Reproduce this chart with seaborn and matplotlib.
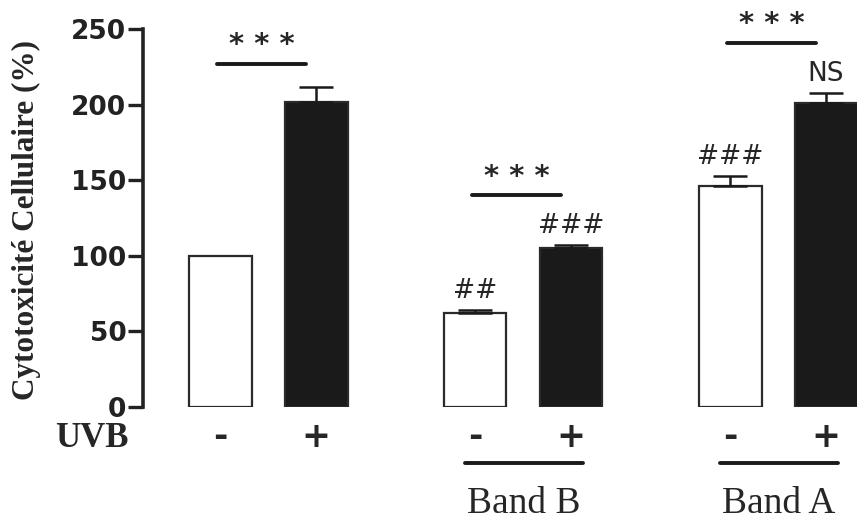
import matplotlib.pyplot as plt
import seaborn as sns
import numpy as np
import pandas as pd

# bar data
positions = [0, 1, 2.656, 3.656, 5.313, 6.313]
uvb = ['-', '+', '-', '+', '-', '+']
cytotox = [100, 202, 62, 105, 146, 201]
sem = [0, 9.5, 2, 2, 6.5, 6.5]

# annotations
sig_marks = ['##', '###', '###', 'NS']
sig_bars = [2, 3, 4, 5]
groups = ['Band B', 'Band A']
group_bars = [(2, 3), (4, 5)]
stars_pairs = [(0, 1), (2, 3), (4, 5)]
stars_y = [227, 140, 241]

df = pd.DataFrame({'pos': positions, 'UVB': uvb, 'val': cytotox})

sns.set_theme(style="ticks")
plt.rcParams['font.family'] = ['DejaVu Sans']

fig = plt.figure(figsize=(8.57, 5.2), dpi=100)
ax = fig.add_axes([0.1669, 0.2173, 0.8331, 0.7267])

sns.barplot(data=df, x='pos', y='val', hue='UVB', native_scale=True,
            palette={'-': 'white', '+': '#1a1a1a'}, width=0.656,
            edgecolor='#2a2a2a', linewidth=1.6, legend=False, ax=ax)

# error bars only where there is an error
has_err = [i for i, e in enumerate(sem) if e > 0]
ax.errorbar([positions[i] for i in has_err], [cytotox[i] for i in has_err],
            yerr=[np.zeros(len(has_err)), [sem[i] for i in has_err]], fmt='none',
            ecolor='#1a1a1a', elinewidth=1.8, capsize=12, capthick=1.8, zorder=1)

ax.set_xlim(-0.802, 6.635)
ax.set_ylim(0, 250)
ax.set_yticks([0, 50, 100, 150, 200, 250])
ax.set_xticks([])
ax.set_xlabel('')
ax.set_ylabel('Cytotoxicité Cellulaire (%)', family='Liberation Serif',
              fontweight='bold', fontsize=22.5)
ax.yaxis.set_label_coords(-0.143, 0.495)
for lab in ax.get_yticklabels():
    lab.set_fontweight('bold')
    lab.set_fontsize(19)
    lab.set_color('#222222')
ax.tick_params(axis='y', length=11, width=2.4, pad=1, color='#222222')
sns.despine(ax=ax, bottom=True)
ax.spines['left'].set_linewidth(2.6)
ax.spines['left'].set_color('#222222')

# UVB +/- labels
for p, s in zip(positions, uvb):
    ax.text(p, -20, s, ha='center', va='center', fontsize=25,
            fontweight='bold', clip_on=False)
ax.text(-1.34, -21, 'UVB', ha='center', va='center', family='Liberation Serif',
        fontweight='bold', fontsize=25, clip_on=False)

# group lines and names
for name, (a, b) in zip(groups, group_bars):
    x0 = positions[a] - 0.1
    x1 = positions[b] + 0.12
    ax.plot([x0, x1], [-37, -37], color='#1a1a1a', lw=2.8, clip_on=False,
            solid_capstyle='round')
    ax.text((x0 + x1) / 2, -64, name, ha='center', va='center',
            family='Liberation Serif', fontsize=27, clip_on=False)

# significance bars
for (a, b), y in zip(stars_pairs, stars_y):
    x0 = positions[a] - 0.03
    x1 = positions[b] - 0.1
    ax.plot([x0, x1], [y, y], color='#1a1a1a', lw=2.8, clip_on=False,
            solid_capstyle='round')
    ax.text((x0 + x1) / 2, y + 3, '* * *', ha='center', va='bottom',
            fontsize=21, fontweight='bold', clip_on=False)

for m, i in zip(sig_marks, sig_bars):
    ax.text(positions[i], cytotox[i] + sem[i] + 4, m, ha='center', va='bottom',
            fontsize=19, clip_on=False)

fig.savefig('out.png', dpi=100)
